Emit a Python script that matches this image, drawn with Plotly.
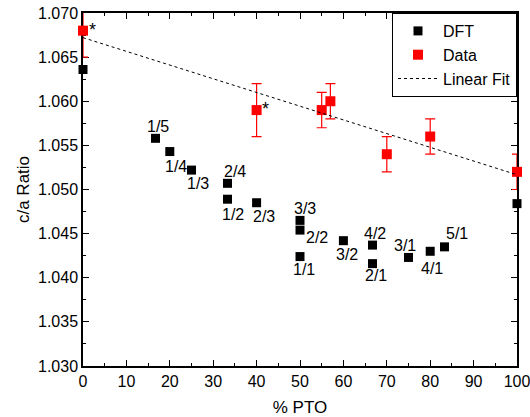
import numpy as np
import plotly.graph_objects as go

# DFT c/a ratios by supercell composition
dft_pto = [0, 16.7, 20, 25, 33.3, 33.3, 40, 50, 50, 50, 60, 66.7, 66.7, 75, 80, 83.3, 100]
dft_ca = [1.0636, 1.0558, 1.0543, 1.0522, 1.0507, 1.0489, 1.0485, 1.0465, 1.0454, 1.0424,
          1.0442, 1.0437, 1.0416, 1.0423, 1.0430, 1.0435, 1.0484]
dft_labels = ["", "1/5", "1/4", "1/3", "2/4", "1/2", "2/3", "3/3", "2/2", "1/1",
              "3/2", "4/2", "2/1", "3/1", "4/1", "5/1", ""]
# label placement (dx, dy) in px relative to each marker
label_offsets = [(0, 0), (3, 12), (6, -15), (6, -13), (7, 12), (5, -15), (7, -14),
                 (5, 12), (17, -7), (4, -13), (4, -14), (3, 12), (4, -12),
                 (-4, 12), (2, -17), (12, 13), (0, 0)]

# Measured c/a ratios with uncertainty
exp_pto = [0, 40, 55, 57, 70, 80, 100]
exp_ca = [1.068, 1.059, 1.059, 1.060, 1.054, 1.056, 1.052]
exp_err = [0.003, 0.003, 0.002, 0.002, 0.002, 0.002, 0.002]

# Starred measurements
star_pto = [0, 40]
star_ca = [1.068, 1.059]

x_ticks = list(range(0, 101, 10))
y_ticks = [1.030, 1.035, 1.040, 1.045, 1.050, 1.055, 1.060, 1.065, 1.070]

slope, intercept = np.polyfit(exp_pto, exp_ca, 1)
fit_x = [0, 100]
fit_y = [intercept + slope * v for v in fit_x]

font = "Liberation Sans, Arial, Helvetica, sans-serif"

fig = go.Figure()
fig.add_trace(go.Scatter(
    x=dft_pto, y=dft_ca, mode="markers", name="DFT",
    marker=dict(symbol="square", size=9, color="black"),
    cliponaxis=False,
))
fig.add_trace(go.Scatter(
    x=exp_pto, y=exp_ca, mode="markers", name="Data",
    marker=dict(symbol="square", size=10, color="red"),
    error_y=dict(type="data", array=exp_err, visible=True, color="red",
                 thickness=1.2, width=5),
    cliponaxis=False,
))
fig.add_trace(go.Scatter(
    x=fit_x, y=fit_y, mode="lines", name="Linear Fit",
    line=dict(color="black", width=1, dash="dot"),
))

for xv, yv, lab, (dx, dy) in zip(dft_pto, dft_ca, dft_labels, label_offsets):
    if lab:
        fig.add_annotation(x=xv, y=yv, text=lab, showarrow=False,
                           xshift=dx, yshift=dy,
                           font=dict(family=font, size=16, color="black"))

for xv, yv in zip(star_pto, star_ca):
    fig.add_annotation(x=xv, y=yv, text="*", showarrow=False,
                       xshift=9, yshift=1,
                       font=dict(family=font, size=18, color="black"))

axis_common = dict(
    showline=True, linecolor="black", linewidth=1.5, mirror="ticks",
    ticks="inside", ticklen=6, tickwidth=1.2, tickcolor="black",
    showgrid=False, zeroline=False, automargin=False,
    ticklabeloverflow="allow", layer="below traces",
    tickfont=dict(family=font, size=16, color="black"),
)

fig.update_layout(
    width=530, height=417,
    margin=dict(l=83, r=13, t=13, b=51),
    plot_bgcolor="white", paper_bgcolor="white",
    font=dict(family=font, size=16, color="black"),
    xaxis=dict(range=[0, 100], tickvals=x_ticks,
               ticktext=[str(v) for v in x_ticks],
               minor=dict(ticks="inside", ticklen=3, tickwidth=1, dtick=5, tickcolor="black"),
               title=dict(text="% PTO", font=dict(family=font, size=17), standoff=12),
               **axis_common),
    yaxis=dict(range=[1.030, 1.070], tickvals=y_ticks,
               ticktext=[f"{v:.3f}" for v in y_ticks],
               minor=dict(ticks="inside", ticklen=3, tickwidth=1, dtick=0.0025, tickcolor="black"),
               title=dict(text="c/a Ratio", font=dict(family=font, size=17), standoff=4),
               **axis_common),
    legend=dict(x=1, y=1, xanchor="right", yanchor="top",
                bgcolor="white", bordercolor="black", borderwidth=1,
                font=dict(family=font, size=16, color="black"),
                tracegroupgap=0, itemwidth=40),
    showlegend=True,
)

fig.write_html("out.html")
